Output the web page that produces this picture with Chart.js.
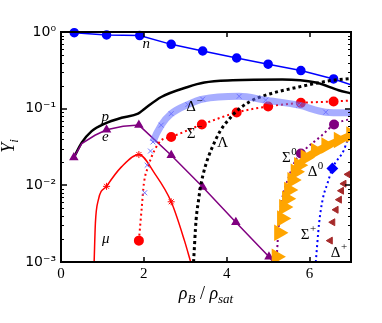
<!DOCTYPE html>
<html>
<head>
<meta charset="utf-8">
<script src="https://cdn.jsdelivr.net/npm/chart.js@4/dist/chart.umd.min.js"></script>
<style>
  html, body { margin: 0; padding: 0; background: #fff; }
  canvas { display: block; }
</style>
</head>
<body>
<canvas id="yields" width="382" height="323"></canvas>
<script>
// axis ticks
const xTicks = [0, 2, 4, 6];
const yTicks = [0.001, 0.01, 0.1, 1];
const yTickLabels = ['10⁻³', '10⁻²', '10⁻¹', '10⁰'];

// particle fractions (x = rho_B / rho_sat)
const nX = [0.32, 1.1, 1.9, 2.66, 3.42, 4.24, 5.0, 5.79, 6.58, 7.0];
const nY = [0.98, 0.914, 0.898, 0.69, 0.565, 0.458, 0.38, 0.314, 0.244, 0.205];

const pX = [0.31, 0.5, 0.74, 1.06, 1.46, 1.86, 2.02, 2.42, 3.06, 3.46, 4.14, 5.34, 6.15, 6.7, 7.0];
const pY = [0.023, 0.036, 0.051, 0.064, 0.076, 0.086, 0.1, 0.142, 0.192, 0.219, 0.234, 0.24, 0.219, 0.174, 0.158];

const eX = [0.31, 0.5, 0.82, 1.1, 1.5, 1.88, 2.66, 3.42, 4.22, 5.02, 5.12];
const eY = [0.023, 0.035, 0.045, 0.053, 0.059, 0.061, 0.0247, 0.0095, 0.0033, 0.00117, 0.001];

const muX = [0.8, 0.83, 0.9, 1.1, 1.46, 1.88, 2.26, 2.66, 2.98, 3.13];
const muY = [0.001, 0.0032, 0.0064, 0.0097, 0.0174, 0.0252, 0.0143, 0.0061, 0.0019, 0.001];

const sigMX = [1.88, 1.95, 2.0, 2.1, 2.26, 2.42, 2.66, 3.4, 4.24, 5.0, 5.79, 6.58, 7.0];
const sigMY = [0.0019, 0.0052, 0.0105, 0.0174, 0.0288, 0.0387, 0.0428, 0.062, 0.089, 0.107, 0.119, 0.124, 0.128];

const lamX = [3.2, 3.26, 3.32, 3.38, 3.73, 4.14, 4.54, 4.94, 5.74, 6.55, 7.0];
const lamY = [0.001, 0.0035, 0.0064, 0.0105, 0.039, 0.082, 0.122, 0.15, 0.192, 0.234, 0.247];

const delMX = [2.02, 2.08, 2.16, 2.22, 2.42, 2.66, 3.06, 3.42, 4.3, 4.94, 5.74, 6.39, 7.0];
const delMY = [0.008, 0.0183, 0.028, 0.0368, 0.061, 0.086, 0.113, 0.133, 0.145, 0.129, 0.111, 0.09, 0.088];

const sig0X = [5.2, 5.26, 5.34, 5.5, 5.66, 5.79, 6.3, 6.59, 7.0];
const sig0Y = [0.001, 0.0032, 0.0067, 0.0129, 0.0212, 0.026, 0.045, 0.062, 0.074];

const del0X = [5.2, 5.26, 5.33, 5.38, 5.45, 5.5, 5.58, 5.66, 5.74, 5.9, 6.15, 6.4, 6.7, 7.0];
const del0Y = [0.00117, 0.0024, 0.0037, 0.0052, 0.0067, 0.0087, 0.0117, 0.015, 0.0183, 0.023, 0.028, 0.033, 0.039, 0.046];

const sigPX = [6.15, 6.23, 6.32, 6.43, 6.55, 6.83, 6.9, 7.0];
const sigPY = [0.001, 0.0032, 0.0067, 0.0105, 0.0166, 0.029, 0.037, 0.048];

const delPX = [6.5, 6.56, 6.64, 6.72, 6.77, 6.83, 6.93];
const delPY = [0.0019, 0.0033, 0.0048, 0.0065, 0.0085, 0.0105, 0.0139];

// curve names, placed in data coordinates
const curveLabels = [
  { text: 'n', sup: '', x: 2.06, y: 0.706, italic: true },
  { text: 'p', sup: '', x: 1.07, y: 0.078, italic: true },
  { text: 'e', sup: '', x: 1.07, y: 0.0428, italic: true },
  { text: 'μ', sup: '', x: 1.08, y: 0.00202, italic: true },
  { text: 'Δ', sup: '−', x: 3.14, y: 0.105 },
  { text: 'Σ', sup: '−', x: 3.14, y: 0.0473 },
  { text: 'Λ', sup: '', x: 3.9, y: 0.0354 },
  { text: 'Σ', sup: '0', x: 5.44, y: 0.0224 },
  { text: 'Δ', sup: '0', x: 6.07, y: 0.0147 },
  { text: 'Σ', sup: '+', x: 5.89, y: 0.00224 },
  { text: 'Δ', sup: '+', x: 6.63, y: 0.00129 }
];

const pts = (xs, ys) => xs.map((x, i) => ({ x, y: ys[i] }));
const marks = (idx, r) => ctx => idx.includes(ctx.dataIndex) ? r : 0;
const CLEAR = 'rgba(0,0,0,0)';
const SERIF = '"Liberation Serif", "DejaVu Serif", serif';

function drawLabel(ctx, lab, px, py) {
  ctx.font = (lab.italic ? 'italic ' : '') + '15px ' + SERIF;
  ctx.textAlign = 'center';
  ctx.textBaseline = 'middle';
  ctx.fillText(lab.text, px, py);
  if (lab.sup) {
    const w = ctx.measureText(lab.text).width;
    ctx.font = '11px ' + SERIF;
    ctx.textAlign = 'left';
    ctx.fillText(lab.sup, px + w / 2 + 0.5, py - 6);
  }
}

function drawPieces(ctx, pieces, cx, baseline) {
  let total = 0;
  pieces.forEach(p => { ctx.font = p.font; p.w = ctx.measureText(p.t).width; total += p.w; });
  let cur = cx - total / 2;
  ctx.textAlign = 'left';
  ctx.textBaseline = 'alphabetic';
  pieces.forEach(p => { ctx.font = p.font; ctx.fillText(p.t, cur, baseline + p.dy); cur += p.w; });
}

const frame = {
  id: 'frame',
  afterDatasetsDraw(chart) {
    const { ctx, chartArea: a, scales: { x, y } } = chart;
    ctx.save();
    ctx.strokeStyle = '#000';
    ctx.fillStyle = '#000';

    // minor ticks on the log axis
    ctx.lineWidth = 1;
    ctx.beginPath();
    yTicks.slice(0, -1).forEach(v => {
      for (let k = 2; k < 10; k++) {
        const q = Math.round(y.getPixelForValue(v * k)) + 0.5;
        ctx.moveTo(a.left, q); ctx.lineTo(a.left + 3, q);
        ctx.moveTo(a.right, q); ctx.lineTo(a.right - 3, q);
      }
    });
    ctx.stroke();

    // major ticks, pointing inward
    ctx.lineWidth = 1.5;
    ctx.beginPath();
    yTicks.forEach(v => {
      const q = Math.round(y.getPixelForValue(v));
      ctx.moveTo(a.left, q); ctx.lineTo(a.left + 6, q);
      ctx.moveTo(a.right, q); ctx.lineTo(a.right - 6, q);
    });
    xTicks.forEach(v => {
      const q = Math.round(x.getPixelForValue(v));
      ctx.moveTo(q, a.bottom); ctx.lineTo(q, a.bottom - 5);
      ctx.moveTo(q, a.top); ctx.lineTo(q, a.top + 5);
    });
    ctx.stroke();

    ctx.lineWidth = 2;
    ctx.strokeRect(a.left, a.top, a.right - a.left, a.bottom - a.top);

    // curve names
    curveLabels.forEach(lab => drawLabel(ctx, lab, x.getPixelForValue(lab.x), y.getPixelForValue(lab.y)));

    // x title: rho_B / rho_sat
    drawPieces(ctx, [
      { t: 'ρ', font: 'italic 18px ' + SERIF, dy: 0 },
      { t: 'B', font: 'italic 13px ' + SERIF, dy: 4 },
      { t: ' / ', font: '18px ' + SERIF, dy: 0 },
      { t: 'ρ', font: 'italic 18px ' + SERIF, dy: 0 },
      { t: 'sat', font: 'italic 13px ' + SERIF, dy: 4 }
    ], (a.left + a.right) / 2, 299);

    // y title: Y_i
    ctx.translate(14, 146);
    ctx.rotate(-Math.PI / 2);
    drawPieces(ctx, [
      { t: 'Y', font: 'italic 18px ' + SERIF, dy: 0 },
      { t: 'i', font: 'italic 13px ' + SERIF, dy: 4 }
    ], 0, 0);
    ctx.restore();
  }
};

const chart = new Chart(document.getElementById('yields'), {
  type: 'scatter',
  data: {
    datasets: [
      {
        data: pts(delMX, delMY), showLine: true, borderWidth: 7, borderColor: 'rgba(95,105,255,0.55)',
        segment: { borderColor: c => c.p0DataIndex < 3 ? CLEAR : undefined },
        pointStyle: 'crossRot', pointRadius: 3.5, pointBorderWidth: 1, pointBorderColor: '#6f74ff',
        cubicInterpolationMode: 'monotone'
      },
      {
        data: pts(del0X, del0Y), showLine: true, borderWidth: 6, borderColor: '#ffa500',
        segment: { borderColor: c => c.p0DataIndex < 7 ? CLEAR : undefined },
        pointStyle: 'triangle', rotation: 90, pointRadius: 3.5, pointBackgroundColor: '#ffa500',
        pointBorderColor: '#ffa500', cubicInterpolationMode: 'monotone'
      },
      {
        data: pts(delPX, delPY), showLine: false,
        pointStyle: 'triangle', rotation: -90, pointRadius: 4, pointBackgroundColor: '#a52a2a',
        pointBorderColor: '#a52a2a'
      },
      {
        data: pts(lamX, lamY), showLine: true, borderWidth: 3, borderColor: '#000', borderDash: [3, 3],
        pointRadius: 0, cubicInterpolationMode: 'monotone'
      },
      {
        data: pts(sig0X, sig0Y), showLine: true, borderWidth: 2, borderColor: '#800080', borderDash: [2, 3],
        pointRadius: marks([5, 7], 4), pointBackgroundColor: '#800080', pointBorderColor: '#800080',
        cubicInterpolationMode: 'monotone'
      },
      {
        data: pts(sigPX, sigPY), showLine: true, borderWidth: 2, borderColor: '#0000ff', borderDash: [2, 3],
        pointStyle: 'rectRot', pointRadius: marks([4], 4.5), pointBackgroundColor: '#0000ff',
        pointBorderColor: '#0000ff', cubicInterpolationMode: 'monotone'
      },
      {
        data: pts(sigMX, sigMY), showLine: true, borderWidth: 2, borderColor: '#ff0000', borderDash: [2, 3],
        pointRadius: marks([0, 6, 7, 8, 9, 10, 11], 4), pointBackgroundColor: '#ff0000',
        pointBorderColor: '#ff0000', cubicInterpolationMode: 'monotone'
      },
      {
        data: pts(muX, muY), showLine: true, borderWidth: 1.5, borderColor: '#ff0000',
        pointStyle: 'star', pointRadius: marks([3, 5, 7], 3.5), pointBorderColor: '#ff0000',
        pointBorderWidth: 1, cubicInterpolationMode: 'monotone'
      },
      {
        data: pts(eX, eY), showLine: true, borderWidth: 1.5, borderColor: '#800080', tension: 0,
        pointStyle: 'triangle', pointRadius: marks([0, 3, 5, 6, 7, 8, 9], 4),
        pointBackgroundColor: '#800080', pointBorderColor: '#800080'
      },
      {
        data: pts(pX, pY), showLine: true, borderWidth: 2.5, borderColor: '#000', pointRadius: 0,
        cubicInterpolationMode: 'monotone'
      },
      {
        data: pts(nX, nY), showLine: true, borderWidth: 1.5, borderColor: '#0000ff',
        pointRadius: marks([0, 1, 2, 3, 4, 5, 6, 7, 8], 4), pointBackgroundColor: '#0000ff',
        pointBorderColor: '#0000ff', clip: { left: 6, top: 6, right: 0, bottom: 0 }
      }
    ]
  },
  options: {
    responsive: false,
    animation: false,
    layout: { padding: { left: 0, top: 32, right: 31, bottom: 0 } },
    plugins: { legend: { display: false }, tooltip: { enabled: false } },
    scales: {
      x: {
        type: 'linear', min: 0, max: 7,
        afterFit: s => { s.height = 61; },
        afterBuildTicks: s => { s.ticks = xTicks.map(v => ({ value: v })); },
        grid: { display: false, drawTicks: false },
        border: { display: false },
        ticks: { padding: 3, color: '#000', font: { family: SERIF, size: 15 }, autoSkip: false, maxRotation: 0 }
      },
      y: {
        type: 'logarithmic', min: 0.001, max: 1,
        afterFit: s => { s.width = 61; },
        afterBuildTicks: s => { s.ticks = yTicks.map(v => ({ value: v, major: true })); },
        grid: { display: false, drawTicks: false },
        border: { display: false },
        ticks: {
          padding: 5, color: '#000', autoSkip: false,
          font: { family: '"DejaVu Sans", sans-serif', size: 14 },
          callback: (v, i) => yTickLabels[i]
        }
      }
    }
  },
  plugins: [frame]
});
</script>
</body>
</html>
